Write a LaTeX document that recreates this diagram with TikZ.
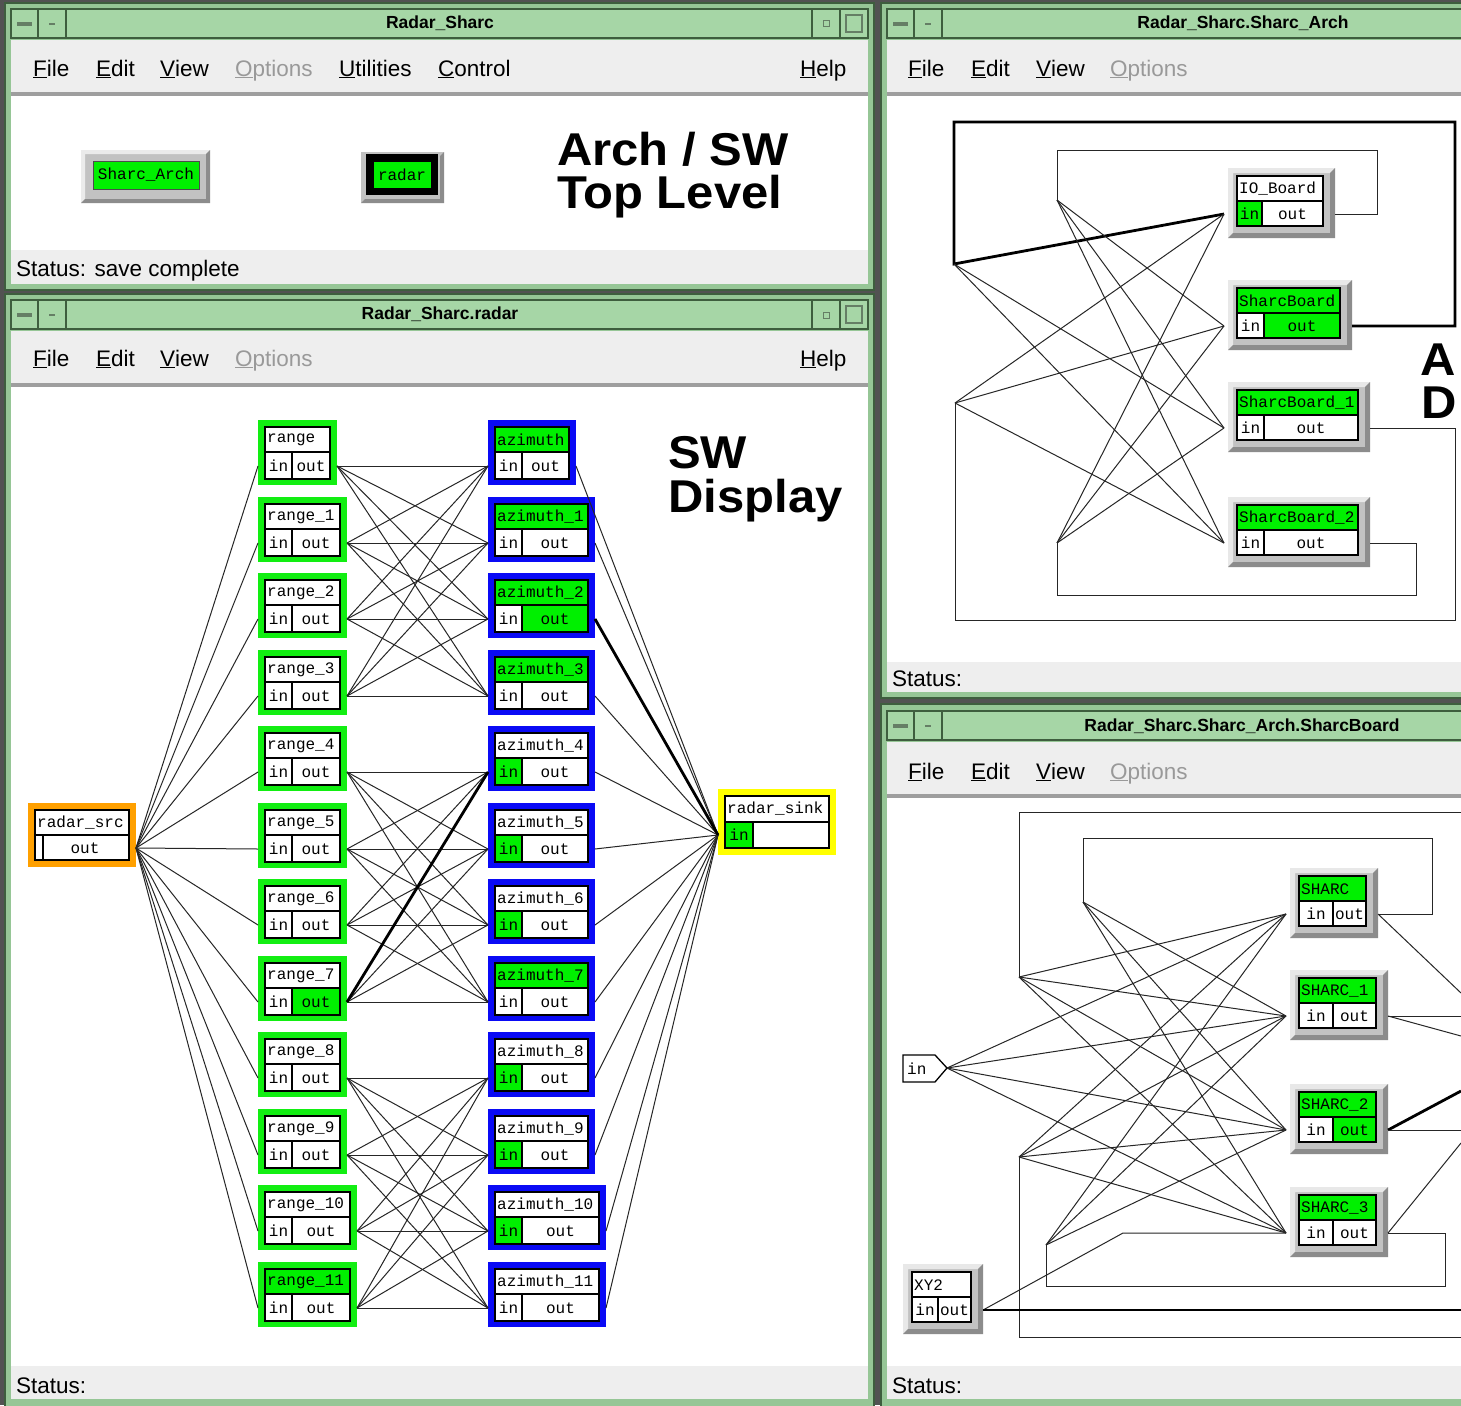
\documentclass[tikz,border=0pt]{standalone}
\usepackage{fontspec}
\setmainfont{Liberation Sans}
\newfontfamily\monof{Liberation Mono}
\definecolor{frameg}{HTML}{96C696}
\definecolor{titleg}{HTML}{A6D6A6}
\definecolor{darkg}{HTML}{3E5E3E}
\definecolor{menug}{HTML}{EEEEEE}
\definecolor{hot}{HTML}{00F000}
\definecolor{rgreen}{HTML}{12EE12}
\definecolor{ablue}{HTML}{0A0AF5}
\definecolor{sorange}{HTML}{FFA000}
\definecolor{syellow}{HTML}{FFFF00}
\tikzset{
  lbl/.style={font=\monof\fontsize{16}{18}\selectfont, inner sep=0},
  mnu/.style={font=\fontsize{22.5}{26}\selectfont, anchor=base west, inner sep=0},
  mnug/.style={mnu, text=black!40},
  ttl/.style={font=\bfseries\fontsize{17.5}{20}\selectfont, inner sep=0},
  bigt/.style={font=\bfseries\fontsize{46}{50}\selectfont, anchor=base west, inner sep=0, xscale=1.065, transform shape},
  wire/.style={line width=1pt, black!85},
  twire/.style={line width=2.8pt, black},
}
% coloured block: name, x, y, w, label, frame, labelfill, infill, outfill
\newcommand\cblk[9]{%
\begin{scope}[shift={(#2,#3)}]
\node[fill=#6, minimum width=#4, minimum height=65, anchor=north west, inner sep=0, outer sep=0] (#1) at (0,0) {};
\fill[#7] (7,7) rectangle ({#4-7},32);
\fill[#8] (7,32) rectangle (34,59);
\fill[#9] (34,32) rectangle ({#4-7},59);
\draw[line width=1.6pt] (7,7) rectangle ({#4-7},59) (7,32) -- ({#4-7},32) (34,32) -- (34,59);
\node[lbl, anchor=west] (#1-t) at (9,20) {#5};
\node[lbl] (#1-p) at (20.5,46) {in};
\node[lbl] (#1-q) at ({(#4+27)/2},46) {out};
\coordinate (#1-i) at (0,46);
\coordinate (#1-o) at (#4,46);
\end{scope}}
% grey block: name, x, y, w, label, labelfill, infill, outfill, divider
\newcommand\gblk[9]{%
\begin{scope}[shift={(#2,#3)}]
\node[fill=black!24, minimum width=#4, minimum height=70, anchor=north west, inner sep=0, outer sep=0] (#1) at (0,0) {};
\fill[black!9] (0,0) -- (#4,0) -- ({#4-5},5) -- (5,5) -- (5,65) -- (0,70) -- cycle;
\fill[black!45] (#4,0) -- (#4,70) -- (0,70) -- (5,65) -- ({#4-5},65) -- ({#4-5},5) -- cycle;
\fill[#6] (9,8) rectangle ({#4-12},33);
\fill[#7] (9,33) rectangle (#9,58);
\fill[#8] (#9,33) rectangle ({#4-12},58);
\draw[line width=1.4pt] (9,8) rectangle ({#4-12},58) (9,33) -- ({#4-12},33) (#9,33) -- (#9,58);
\node[lbl, anchor=west] (#1-t) at (11,21) {#5};
\node[lbl] (#1-p) at ({(#9+9)/2},46) {in};
\node[lbl] (#1-q) at ({(#9+#4-12)/2},46) {out};
\coordinate (#1-i) at (-4,46);
\coordinate (#1-o) at (#4,46);
\end{scope}}
% window: x0, x1, frametop, framebottom, titletop, statustop, statusbottom, rightbuttons
\newcommand\win[8]{%
\fill[frameg] (#1,#3) rectangle (#2,#4);
\draw[darkg, line width=1.2pt] ({#1+1},{#3+1}) rectangle ({#2-1},{#4-1});
\fill[titleg] ({#1+7},#5) rectangle ({#2-7},{#5+29});
\draw[darkg, line width=1.2pt] ({#1+7},#5) rectangle ({#2-7},{#5+29});
\draw[darkg, line width=1.2pt] ({#1+7},#5) rectangle ({#1+34},{#5+29}) ({#1+34},#5) rectangle ({#1+62},{#5+29});
\fill[darkg!80] ({#1+13},{#5+13}) rectangle ({#1+28},{#5+17});
\fill[darkg!80] ({#1+45},{#5+14}) rectangle ({#1+51},{#5+16});
\ifnum#8=1
\draw[darkg, line width=1.2pt] ({#2-63},#5) rectangle ({#2-35},{#5+29}) ({#2-35},#5) rectangle ({#2-7},{#5+29});
\draw[darkg!80, line width=1pt] ({#2-52},{#5+12}) rectangle ({#2-46},{#5+18});
\draw[darkg!80, line width=1.2pt] ({#2-29},{#5+6}) rectangle ({#2-13},{#5+23});
\fi
\fill[menug] ({#1+7},{#5+31}) rectangle ({#2-7},{#5+83});
\fill[black!38] ({#1+7},{#5+83}) rectangle ({#2-7},{#5+87});
\fill[white] ({#1+7},{#5+87}) rectangle ({#2-7},#6);
\fill[menug] ({#1+7},#6) rectangle ({#2-7},#7);
}
\begin{document}
\begin{tikzpicture}[x=1pt,y=-1pt]
\useasboundingbox (0,0) rectangle (1461,1405);
\fill[black!68] (0,0) rectangle (1461,1405);
\win{4}{875}{2}{291}{9}{250}{284}{1}
\win{4}{875}{293}{1412}{300}{1366}{1399}{1}
\win{880}{1470}{2}{699}{9}{662}{692}{0}
\win{880}{1470}{703}{1412}{711}{1366}{1399}{0}

% ---------- titles, menus, status
\node[ttl] (t1) at (440,23) {Radar\_Sharc};
\node[ttl] (t2) at (440,314) {Radar\_Sharc.radar};
\node[ttl] (t3) at (1243,23) {Radar\_Sharc.Sharc\_Arch};
\node[ttl] (t4) at (1242,726) {Radar\_Sharc.Sharc\_Arch.SharcBoard};

\node[mnu] (w1f) at (33,76) {\underline{F}ile};
\node[mnu] (w1e) at (96,76) {\underline{E}dit};
\node[mnu] (w1v) at (160,76) {\underline{V}iew};
\node[mnug] (w1o) at (235,76) {\underline{O}ptions};
\node[mnu] (w1u) at (339,76) {\underline{U}tilities};
\node[mnu] (w1c) at (438,76) {\underline{C}ontrol};
\node[mnu] (w1h) at (800,76) {\underline{H}elp};

\node[mnu] (w2f) at (33,366) {\underline{F}ile};
\node[mnu] (w2e) at (96,366) {\underline{E}dit};
\node[mnu] (w2v) at (160,366) {\underline{V}iew};
\node[mnug] (w2o) at (235,366) {\underline{O}ptions};
\node[mnu] (w2h) at (800,366) {\underline{H}elp};

\node[mnu] (w3f) at (908,76) {\underline{F}ile};
\node[mnu] (w3e) at (971,76) {\underline{E}dit};
\node[mnu] (w3v) at (1036,76) {\underline{V}iew};
\node[mnug] (w3o) at (1110,76) {\underline{O}ptions};

\node[mnu] (w4f) at (908,779) {\underline{F}ile};
\node[mnu] (w4e) at (971,779) {\underline{E}dit};
\node[mnu] (w4v) at (1036,779) {\underline{V}iew};
\node[mnug] (w4o) at (1110,779) {\underline{O}ptions};

\node[mnu] (s1) at (16,276) {Status: save complete};
\node[mnu] (s2) at (16,1393) {Status:};
\node[mnu] (s3) at (892,686) {Status:};
\node[mnu] (s4) at (892,1393) {Status:};

% ---------- window 1: top level
\node[fill=black!24, minimum width=129, minimum height=53, anchor=north west, inner sep=0] (sab) at (81,150) {};
\fill[black!8] (81,150) -- (210,150) -- (206,154) -- (85,154) -- (85,199) -- (81,203) -- cycle;
\fill[black!45] (210,150) -- (210,203) -- (81,203) -- (85,199) -- (206,199) -- (206,154) -- cycle;
\fill[hot] (93,161) rectangle (199,189);
\draw[black!70, line width=1pt] (93,161) rectangle (199,189);
\node[lbl] (sabt) at (146,175) {Sharc\_Arch};
\node[fill=black!24, minimum width=83, minimum height=51, anchor=north west, inner sep=0] (rdb) at (361,152) {};
\fill[black!45] (444,152) -- (444,203) -- (361,203) -- (365,199) -- (440,199) -- (440,156) -- cycle;
\fill[black] (366,154) rectangle (438,195);
\fill[hot] (374,162) rectangle (431,188);
\node[lbl] (rdbt) at (402,175) {radar};
\node[bigt] (lab1) at (557,165) {Arch / SW};
\node[bigt] (lab2) at (557,208) {Top Level};

% ---------- window 2: radar
\node[bigt] (lab3) at (668,468) {SW};
\node[bigt] (lab4) at (668,512) {Display};

\cblk{r0}{258}{420}{79}{range}{rgreen}{white}{white}{white}
\cblk{r1}{258}{497}{89}{range\_1}{rgreen}{white}{white}{white}
\cblk{r2}{258}{573}{89}{range\_2}{rgreen}{white}{white}{white}
\cblk{r3}{258}{650}{89}{range\_3}{rgreen}{white}{white}{white}
\cblk{r4}{258}{726}{89}{range\_4}{rgreen}{white}{white}{white}
\cblk{r5}{258}{803}{89}{range\_5}{rgreen}{white}{white}{white}
\cblk{r6}{258}{879}{89}{range\_6}{rgreen}{white}{white}{white}
\cblk{r7}{258}{956}{89}{range\_7}{rgreen}{white}{white}{hot}
\cblk{r8}{258}{1032}{89}{range\_8}{rgreen}{white}{white}{white}
\cblk{r9}{258}{1109}{89}{range\_9}{rgreen}{white}{white}{white}
\cblk{r10}{258}{1185}{99}{range\_10}{rgreen}{white}{white}{white}
\cblk{r11}{258}{1262}{99}{range\_11}{rgreen}{hot}{white}{white}

\cblk{a0}{488}{420}{88}{azimuth}{ablue}{hot}{white}{white}
\cblk{a1}{488}{497}{107}{azimuth\_1}{ablue}{hot}{white}{white}
\cblk{a2}{488}{573}{107}{azimuth\_2}{ablue}{hot}{white}{hot}
\cblk{a3}{488}{650}{107}{azimuth\_3}{ablue}{hot}{white}{white}
\cblk{a4}{488}{726}{107}{azimuth\_4}{ablue}{white}{hot}{white}
\cblk{a5}{488}{803}{107}{azimuth\_5}{ablue}{white}{hot}{white}
\cblk{a6}{488}{879}{107}{azimuth\_6}{ablue}{white}{hot}{white}
\cblk{a7}{488}{956}{107}{azimuth\_7}{ablue}{hot}{white}{white}
\cblk{a8}{488}{1032}{107}{azimuth\_8}{ablue}{white}{hot}{white}
\cblk{a9}{488}{1109}{107}{azimuth\_9}{ablue}{white}{hot}{white}
\cblk{a10}{488}{1185}{118}{azimuth\_10}{ablue}{white}{hot}{white}
\cblk{a11}{488}{1262}{118}{azimuth\_11}{ablue}{white}{white}{white}

\begin{scope}[shift={(28,803)}]
\node[fill=sorange, minimum width=108, minimum height=64, anchor=north west, inner sep=0] (src) at (0,0) {};
\fill[white] (7,7) rectangle (101,57);
\draw[line width=1.6pt] (7,7) rectangle (101,57) (7,32) -- (101,32) (15,32) -- (15,57);
\node[lbl, anchor=west] (src-t) at (9,20) {radar\_src};
\node[lbl] (src-q) at (57,45) {out};
\coordinate (src-o) at (108,45);
\end{scope}
\begin{scope}[shift={(718,789)}]
\node[fill=syellow, minimum width=118, minimum height=66, anchor=north west, inner sep=0] (sink) at (0,0) {};
\fill[white] (7,7) rectangle (111,59);
\fill[hot] (7,33) rectangle (35,59);
\draw[line width=1.6pt] (7,7) rectangle (111,59) (7,33) -- (111,33) (35,33) -- (35,59);
\node[lbl, anchor=west] (sink-t) at (9,20) {radar\_sink};
\node[lbl] (sink-p) at (21,46) {in};
\coordinate (sink-i) at (0,46);
\end{scope}

\foreach \i in {0,...,11} {\draw[wire] (src-o) -- (r\i-i);}
\foreach \g in {0,4,8} {\foreach \a in {0,...,3} {\foreach \b in {0,...,3} {%
  \pgfmathtruncatemacro\ii{\g+\a}\pgfmathtruncatemacro\jj{\g+\b}%
  \draw[wire] (r\ii-o) -- (a\jj-i);}}}
\foreach \j in {0,...,11} {\draw[wire] (a\j-o) -- (sink-i);}
\draw[twire] (r7-o) -- (a4-i);
\draw[twire] (a2-o) -- (sink-i);

% ---------- window 3: Sharc_Arch
\gblk{io}{1228}{168}{107}{IO\_Board}{white}{hot}{white}{34}
\gblk{sb}{1228}{280}{124}{SharcBoard}{hot}{white}{hot}{36}
\gblk{sb1}{1228}{382}{142}{SharcBoard\_1}{hot}{white}{white}{36}
\gblk{sb2}{1228}{497}{142}{SharcBoard\_2}{hot}{white}{white}{36}
\node[bigt] (lab5) at (1420,375) {A};
\node[bigt] (lab6) at (1421,418) {D};
\coordinate (p1) at (954,264);
\coordinate (p2) at (1057,200);
\coordinate (p3) at (955,403);
\coordinate (p4) at (1057,543);
\coordinate (k1) at (1455,122);
\coordinate (k2) at (954,122);
\coordinate (k3) at (1377,150);
\coordinate (k4) at (1057,150);
\coordinate (k5) at (1455,620);
\coordinate (k6) at (955,620);
\coordinate (k7) at (1416,595);
\coordinate (k8) at (1057,595);
\draw[twire] (sb-o) -| (k1) -- (k2) -- (p1) -- (io-i);
\draw[wire] (io-o) -| (k3) -- (k4) -- (p2);
\draw[wire] (sb1-o) -| (k5) -- (k6) -- (p3);
\draw[wire] (sb2-o) -| (k7) -- (k8) -- (p4);
\foreach \t in {sb1,sb2} {\draw[wire] (p1) -- (\t-i);}
\foreach \t in {sb,sb1,sb2} {\draw[wire] (p2) -- (\t-i);}
\foreach \t in {io,sb,sb2} {\draw[wire] (p3) -- (\t-i);}
\foreach \t in {io,sb,sb1} {\draw[wire] (p4) -- (\t-i);}

% ---------- window 4: SharcBoard
\gblk{s0}{1290}{868}{88}{SHARC}{hot}{white}{white}{43}
\gblk{s1}{1290}{970}{98}{SHARC\_1}{hot}{white}{white}{43}
\gblk{s2}{1290}{1084}{98}{SHARC\_2}{hot}{white}{hot}{43}
\gblk{s3}{1290}{1187}{98}{SHARC\_3}{hot}{white}{white}{43}
\gblk{xy}{903}{1264}{80}{XY2}{white}{white}{white}{35}
\draw[line width=1.3pt, fill=white] (903,1055) -- (935,1055) -- (947,1068) -- (935,1082) -- (903,1082) -- cycle;
\node[lbl, anchor=west] (inpt) at (907,1069) {in};
\coordinate (inp-o) at (947,1068);
\coordinate (wa) at (1019,977);
\coordinate (wb) at (1083,902);
\coordinate (wc) at (1019,1157);
\coordinate (wd) at (1046,1245);
\coordinate (e1) at (1461,812);
\coordinate (m1) at (1019,812);
\coordinate (e2) at (1461,1337);
\coordinate (m2) at (1019,1337);
\coordinate (k9) at (1432,838);
\coordinate (k10) at (1083,838);
\coordinate (k11) at (1445,1286);
\coordinate (k12) at (1046,1286);
\coordinate (k13) at (1123,1233);
\coordinate (e3) at (1461,1310);
\coordinate (e4) at (1461,993);
\coordinate (e5) at (1461,1016);
\coordinate (e6) at (1461,1036);
\coordinate (e7) at (1461,1091);
\coordinate (e8) at (1461,1130);
\coordinate (e9) at (1461,1143);
\draw[wire] (e1) -- (m1) -- (wa);
\draw[wire] (e2) -- (m2) -- (wc);
\draw[wire] (s0-o) -| (k9) -- (k10) -- (wb);
\draw[wire] (s3-o) -| (k11) -- (k12) -- (wd);
\foreach \t in {s0,s1,s2,s3} {\draw[wire] (wa) -- (\t-i); \draw[wire] (wc) -- (\t-i); \draw[wire] (inp-o) -- (\t-i);}
\foreach \t in {s1,s2,s3} {\draw[wire] (wb) -- (\t-i);}
\foreach \t in {s0,s1,s2} {\draw[wire] (wd) -- (\t-i);}
\draw[wire] (xy-o) -- (k13) -- (s3-i);
\draw[line width=1.8pt] (xy-o) -- (e3);
\draw[wire] (s0-o) -- (e4);
\draw[wire] (s1-o) -- (e5);
\draw[wire] (s1-o) -- (e6);
\draw[twire] (s2-o) -- (e7);
\draw[wire] (s2-o) -- (e8);
\draw[wire] (s3-o) -- (e9);
\end{tikzpicture}
\end{document}
